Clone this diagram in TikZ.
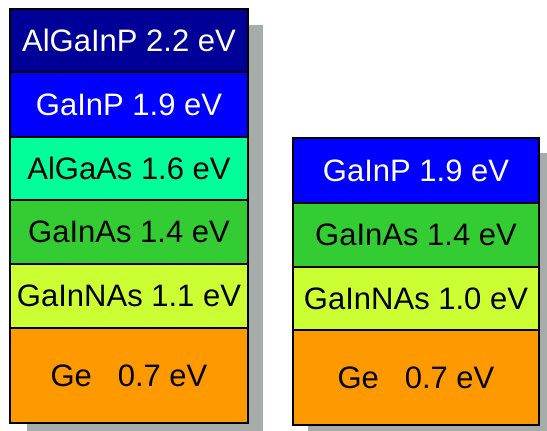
\documentclass[tikz,border=0pt]{standalone}
\usepackage{fontspec}
\setmainfont{Liberation Sans}
\definecolor{shadowgray}{RGB}{166,172,170}
\definecolor{algainp}{RGB}{0,0,153}
\definecolor{gainp}{RGB}{0,0,255}
\definecolor{algaas}{RGB}{0,255,153}
\definecolor{gainas}{RGB}{51,204,51}
\definecolor{gainnas}{RGB}{204,255,51}
\definecolor{ge}{RGB}{255,153,0}
\tikzset{
  layer/.style={draw=black, line width=1.6pt, rectangle, inner sep=0pt,
    outer sep=0pt, anchor=north west, font=\fontsize{31}{31}\selectfont},
  lstack/.style={layer, minimum width=238pt},
  rstack/.style={layer, minimum width=246pt},
  shadow/.style={fill=shadowgray, draw=none}
}
\begin{document}
\begin{tikzpicture}[x=1pt,y=1pt]
  \useasboundingbox (0,0) rectangle (547,431);
  \clip (0,0) rectangle (547,431);
  % drop shadows behind both stacks
  \fill[shadow] (27,-20) rectangle (263,406);
  \fill[shadow] (308,-20) rectangle (560,278);
  % six-junction stack
  \node[lstack, fill=algainp, text=white, minimum height=63pt] (l1) at (10,422) {AlGaInP 2.2 eV};
  \node[lstack, fill=gainp, text=white, minimum height=65pt] (l2) at (l1.south west) {GaInP 1.9 eV};
  \node[lstack, fill=algaas, minimum height=63pt] (l3) at (l2.south west) {AlGaAs 1.6 eV};
  \node[lstack, fill=gainas, minimum height=64pt] (l4) at (l3.south west) {GaInAs 1.4 eV};
  \node[lstack, fill=gainnas, minimum height=64pt] (l5) at (l4.south west) {GaInNAs 1.1 eV};
  \node[lstack, fill=ge, minimum height=95pt] (l6) at (l5.south west) {Ge\ \ \ 0.7 eV};
  % four-junction stack
  \node[rstack, fill=gainp, text=white, minimum height=65pt] (r1) at (293,293) {GaInP 1.9 eV};
  \node[rstack, fill=gainas, minimum height=64pt] (r2) at (r1.south west) {GaInAs 1.4 eV};
  \node[rstack, fill=gainnas, minimum height=63pt] (r3) at (r2.south west) {GaInNAs 1.0 eV};
  \node[rstack, fill=ge, minimum height=95pt] (r4) at (r3.south west) {Ge\ \ \ 0.7 eV};
\end{tikzpicture}
\end{document}
